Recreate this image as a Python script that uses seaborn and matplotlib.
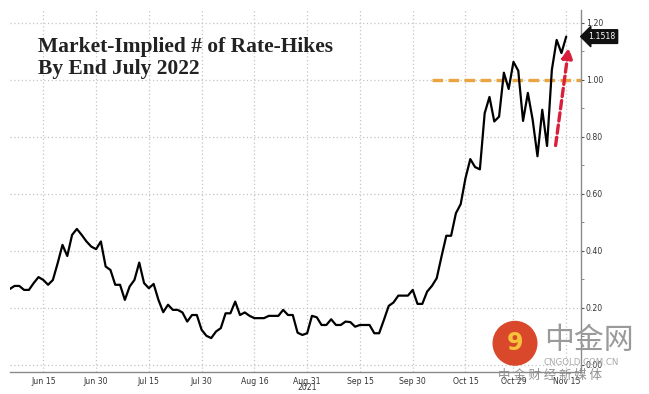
import numpy as np
import pandas as pd
import matplotlib
matplotlib.use("Agg")
import matplotlib.pyplot as plt
from matplotlib.patches import Circle
import seaborn as sns

# Market-implied number of Fed hikes by end July 2022, one value per business day
# (Jun 4 2021 .. Nov 15 2021).
start_date = "2021-06-04"
end_date = "2021-11-15"
hikes = [
    0.266, 0.277, 0.277, 0.263, 0.263, 0.287, 0.308,
    0.298, 0.281, 0.298, 0.357, 0.421, 0.382, 0.456, 0.477, 0.456, 0.433,
    0.415, 0.406, 0.433, 0.345, 0.333, 0.281, 0.281, 0.228, 0.275, 0.298,
    0.359, 0.287, 0.269, 0.284, 0.228, 0.185, 0.211, 0.193, 0.193, 0.184,
    0.152, 0.175, 0.175, 0.123, 0.102, 0.094, 0.117, 0.129, 0.181, 0.181,
    0.222, 0.175, 0.184, 0.172, 0.164, 0.164, 0.164, 0.172, 0.172, 0.172,
    0.193, 0.175, 0.175, 0.113, 0.105, 0.111, 0.172, 0.167, 0.140, 0.140,
    0.160, 0.140, 0.140, 0.152, 0.150, 0.134, 0.140, 0.140, 0.140, 0.111,
    0.111, 0.158, 0.207, 0.219, 0.243, 0.243, 0.243, 0.263, 0.214, 0.214,
    0.257, 0.277, 0.304, 0.380, 0.453, 0.453, 0.532, 0.564, 0.655, 0.722,
    0.694, 0.686, 0.883, 0.940, 0.854, 0.871, 1.025, 0.968, 1.063, 1.032,
    0.856, 0.954, 0.860, 0.732, 0.895, 0.768, 1.035, 1.140, 1.094, 1.1518,
]
tick_dates = ["2021-06-15", "2021-06-30", "2021-07-15", "2021-07-30", "2021-08-16",
              "2021-08-31", "2021-09-15", "2021-09-30", "2021-10-15", "2021-10-29",
              "2021-11-15"]
tick_labels = ["Jun 15", "Jun 30", "Jul 15", "Jul 30", "Aug 16", "Aug 31",
               "Sep 15", "Sep 30", "Oct 15", "Oct 29", "Nov 15"]
y_ticks = [0.0, 0.2, 0.4, 0.6, 0.8, 1.0, 1.2]
threshold = 1.0
threshold_from = "2021-10-06"
arrow_from = ("2021-11-10", 0.76)
arrow_to = ("2021-11-15", 1.123)

dates = pd.bdate_range(start_date, end_date)
df = pd.DataFrame({"date": dates, "pos": np.arange(len(dates)), "hikes": hikes})
pos_of = {d: i for i, d in enumerate(dates)}


def bpos(s):
    return pos_of[pd.Timestamp(s)]


sns.set_style("white")

fig = plt.figure(figsize=(6.49, 3.94), dpi=100)
ax = fig.add_axes([0.0154, 0.0558, 0.8800, 0.9188])

GRID = "#c4c4c4"
for d in tick_dates:
    ax.axvline(bpos(d), color=GRID, ls=(0, (1, 2)), lw=0.9, zorder=0)
for v in y_ticks:
    ax.axhline(v, color=GRID, ls=(0, (1, 2)), lw=0.9, zorder=0)

sns.lineplot(data=df, x="pos", y="hikes", color="black", lw=1.6, ax=ax, zorder=3)

XMAX = 119.1
# orange threshold at 1 hike
ax.plot([bpos(threshold_from), XMAX], [threshold, threshold], color="#eaa440",
        lw=2.4, ls=(0, (3.2, 1.6)), zorder=2)

# red dashed arrow
ax.annotate("", xy=(bpos(arrow_to[0]) + 0.6, arrow_to[1]),
            xytext=(bpos(arrow_from[0]) + 0.7, arrow_from[1]),
            arrowprops=dict(arrowstyle="-|>,head_length=0.6,head_width=0.3",
                            color="#d8203c", lw=2.4, ls=(0, (2.5, 1.2))),
            zorder=4)

ax.set_xlim(0.06, XMAX)
ax.set_ylim(-0.025, 1.245)
ax.set_xlabel("")
ax.set_ylabel("")

ax.set_xticks([bpos(d) for d in tick_dates])
ax.set_xticklabels(tick_labels)
ax.set_xticks([(bpos(a) + bpos(b)) / 2 for a, b in zip(tick_dates[:-1], tick_dates[1:])],
              minor=True)
ax.yaxis.tick_right()
ax.set_yticks(y_ticks)
ax.set_yticklabels([f"{v:.2f}" for v in y_ticks])
ax.set_yticks([0.1, 0.3, 0.5, 0.7, 0.9, 1.1], minor=True)
ax.tick_params(axis="both", which="major", labelsize=5.6, colors="#555555",
               labelcolor="#333333", length=2.5, width=0.8, pad=0.8, direction="out")
ax.tick_params(axis="both", which="minor", length=2, width=0.6, colors="#777777")

for side in ["top", "left"]:
    ax.spines[side].set_visible(False)
for side in ["bottom", "right"]:
    ax.spines[side].set_color("#8a8a8a")
    ax.spines[side].set_linewidth(1.0)

# year label under Aug 31
ax.text(bpos("2021-08-31"), -0.044, "2021", ha="center", va="center", fontsize=5.6,
        color="#333333", transform=ax.get_xaxis_transform())

# last-value tag
last = hikes[-1]
ax.annotate(f"{last:.4f}", xy=(1.0, last), xycoords=("axes fraction", "data"),
            xytext=(5, 0), textcoords="offset points", ha="left", va="center",
            fontsize=5.6, color="white",
            bbox=dict(boxstyle="larrow,pad=0.3", fc="#111111", ec="#111111"),
            annotation_clip=False)

fig.text(0.058, 0.905, "Market-Implied # of Rate-Hikes\nBy End July 2022",
         ha="left", va="top", fontsize=15.5, fontweight="bold", color="#222222",
         family="Liberation Serif", linespacing=1.1)

# source watermark
fig.add_artist(Circle((5.15, 0.507), 0.225, transform=fig.dpi_scale_trans,
                      fc="#d9482a", ec="none", zorder=10))
fig.text(5.15 / 6.49, 0.507 / 3.94, "9", ha="center", va="center", fontsize=17,
         fontweight="bold", color="#f6c23a", zorder=11)
fig.text(0.838, 0.137, "中金网", ha="left", va="center", fontsize=21.5,
         color="#9a9a9a", family=["Noto Sans CJK SC", "DejaVu Sans"], zorder=11)
fig.text(0.838, 0.079, "CNGOLD.COM.CN", ha="left", va="center", fontsize=6.2,
         color="#a8a8a8", zorder=11)
fig.text(0.767, 0.046, "中 金 财 经 新 媒 体", ha="left", va="center", fontsize=9,
         color="#8f8f8f", family=["Noto Sans CJK SC", "DejaVu Sans"], zorder=11)

fig.savefig("out.png", dpi=100)
